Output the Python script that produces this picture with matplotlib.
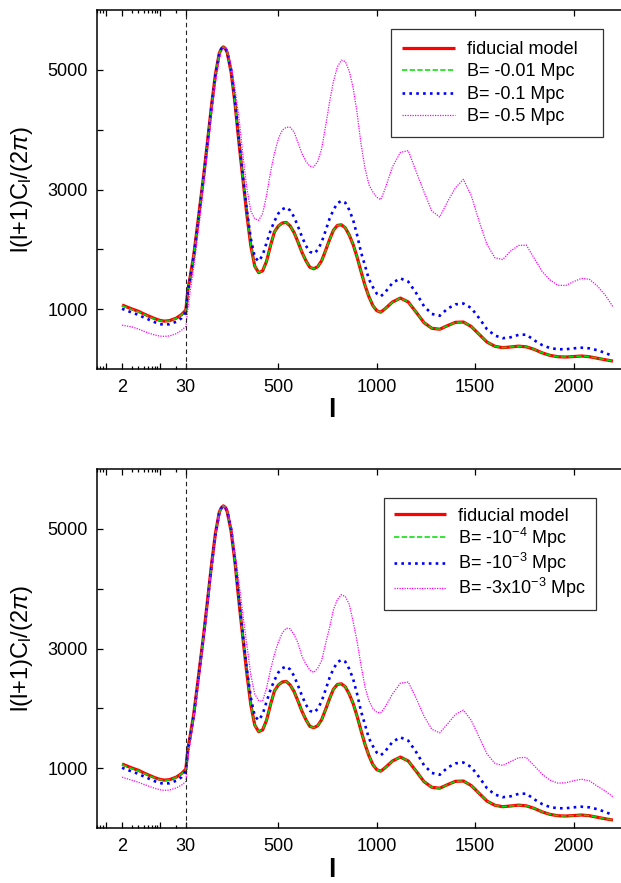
import matplotlib
matplotlib.use('Agg')
import matplotlib.pyplot as plt
import numpy as np
from matplotlib.ticker import FixedLocator, NullFormatter, FixedFormatter

plt.rcParams['font.family'] = ['Liberation Sans', 'DejaVu Sans']
plt.rcParams['mathtext.fontset'] = 'custom'
plt.rcParams['mathtext.rm'] = 'Liberation Sans'
plt.rcParams['mathtext.it'] = 'Liberation Sans:italic'

# multipoles (log part up to 30, linear after)
ell = [2, 3, 4, 5, 6, 8, 10, 12, 15, 20, 25, 30,
       40, 50, 60, 70, 80, 90, 100, 120, 140, 160, 180, 200, 210, 220, 230, 240,
       260, 280, 300, 320, 340, 360, 380, 400, 420, 440,
       460, 480, 500, 520, 540, 560, 580, 600, 620, 640,
       660, 680, 700, 720, 740, 760, 780, 800, 820, 840,
       860, 880, 900, 920, 940, 960, 980, 1000, 1020,
       1040, 1080, 1120, 1160, 1200, 1240, 1280, 1320, 1360, 1400,
       1440, 1480, 1520, 1560, 1600, 1640, 1680, 1720, 1760, 1800,
       1840, 1880, 1920, 1960, 2000, 2040, 2080, 2120, 2160, 2200]

fiducial = [1070, 1005, 965, 922, 890, 842, 812, 800, 808, 850, 910, 983,
            1320, 1500, 1700, 1900, 2160, 2420, 2690, 3217, 3800, 4390, 4920, 5280, 5350, 5384, 5360, 5290,
            4960, 4430, 3780, 3170, 2580, 2060, 1720, 1610, 1640, 1800,
            2060, 2290, 2390, 2440, 2450, 2390, 2280, 2120, 1950, 1810,
            1700, 1675, 1710, 1810, 1980, 2160, 2320, 2400, 2410, 2360,
            2240, 2080, 1870, 1630, 1400, 1210, 1060, 975, 950,
            1000, 1120, 1185, 1120, 950, 775, 680, 665, 725, 780,
            785, 710, 580, 450, 380, 356, 368, 382, 370, 328,
            270, 228, 205, 200, 208, 217, 205, 180, 155, 132]

b_tiny = [1058, 995, 957, 915, 883, 836, 806, 795, 803, 845, 905, 978,
          1310, 1490, 1690, 1890, 2150, 2410, 2680, 3210, 3790, 4380, 4910, 5275, 5348, 5383, 5362, 5295,
          4965, 4440, 3790, 3180, 2590, 2070, 1722, 1612, 1640, 1798,
          2055, 2287, 2390, 2440, 2450, 2392, 2283, 2124, 1953, 1812,
          1701, 1675, 1708, 1806, 1975, 2156, 2318, 2399, 2411, 2362,
          2243, 2084, 1874, 1634, 1403, 1212, 1062, 976, 950,
          998, 1118, 1184, 1122, 952, 777, 681, 664, 723, 779,
          786, 712, 582, 452, 381, 356, 367, 381, 371, 329,
          271, 229, 205, 200, 207, 216, 206, 181, 156, 133]

b_mid = [1007, 945, 905, 862, 832, 782, 750, 742, 748, 790, 850, 945,
         1300, 1480, 1680, 1880, 2140, 2400, 2670, 3200, 3780, 4370, 4900, 5270, 5345, 5382, 5365, 5300,
         5000, 4470, 3820, 3220, 2650, 2180, 1870, 1800, 1900, 2110,
         2310, 2470, 2600, 2670, 2700, 2650, 2540, 2380, 2210, 2060,
         1960, 1930, 1990, 2120, 2310, 2510, 2660, 2770, 2810, 2780,
         2660, 2490, 2240, 1950, 1730, 1500, 1370, 1260, 1215,
         1270, 1440, 1515, 1460, 1270, 1050, 920, 890, 1010, 1080,
         1095, 1020, 850, 665, 560, 515, 530, 570, 575, 480,
         400, 350, 330, 330, 345, 356, 345, 315, 270, 215]

b_big_top = [733, 705, 668, 632, 605, 568, 550, 545, 553, 590, 648, 712,
             1000, 1250, 1480, 1700, 1950, 2220, 2480, 3050, 3640, 4230, 4780, 5180, 5300, 5360, 5375, 5330,
             5080, 4680, 4190, 3570, 3020, 2640, 2510, 2485, 2600, 2900,
             3290, 3600, 3850, 3990, 4040, 4040, 3960, 3780, 3600, 3470,
             3390, 3375, 3470, 3680, 4060, 4460, 4810, 5050, 5160, 5140,
             4980, 4700, 4280, 3760, 3360, 3080, 2960, 2870, 2830,
             2990, 3380, 3620, 3650, 3300, 2960, 2640, 2540, 2800, 3030,
             3170, 2900, 2470, 2080, 1860, 1830, 1970, 2065, 2070, 1850,
             1630, 1490, 1400, 1395, 1460, 1515, 1500, 1390, 1240, 1040]

b_big_bot = [850, 800, 765, 730, 705, 663, 640, 628, 635, 670, 718, 776,
             1150, 1380, 1600, 1800, 2060, 2320, 2590, 3140, 3730, 4320, 4860, 5240, 5330, 5370, 5370, 5310,
             5030, 4600, 4100, 3560, 3060, 2560, 2240, 2130, 2120, 2340,
             2640, 2900, 3110, 3260, 3340, 3330, 3230, 3090, 2870, 2740,
             2640, 2600, 2670, 2800, 3080, 3350, 3650, 3820, 3900, 3870,
             3740, 3450, 3120, 2720, 2360, 2130, 2000, 1935, 1925,
             2010, 2240, 2420, 2440, 2170, 1870, 1650, 1590, 1740, 1900,
             1970, 1800, 1520, 1240, 1080, 1045, 1110, 1175, 1180, 1040,
             900, 800, 750, 755, 790, 815, 790, 700, 620, 520]

labels_top = ['fiducial model', 'B= -0.01 Mpc', 'B= -0.1 Mpc', 'B= -0.5 Mpc']
labels_bot = ['fiducial model', r'B= -10$^{\mathregular{-4}}$ Mpc',
              r'B= -10$^{\mathregular{-3}}$ Mpc', r'B= -3x10$^{\mathregular{-3}}$ Mpc']

# hybrid axis: log below l=30, linear above
K = 275.7
def fwd(l):
    l = np.asarray(l, float)
    safe = np.clip(l, 1e-6, None)
    return np.where(l < 30, 30 + K * np.log10(safe / 30), l)

def inv(x):
    x = np.asarray(x, float)
    return np.where(x < 30, 30 * 10 ** ((np.minimum(x, 30) - 30) / K), x)

fig = plt.figure(figsize=(6.21, 8.83), dpi=100)
W, H = 621, 883
AXW = 524.5

def make_panel(bottom_px, big, labels, leg_box, labelspacing, borderpad):
    ax = fig.add_axes([97.3 / W, 1 - bottom_px / H, AXW / W, 359 / H])
    ax.set_xscale('function', functions=(fwd, inv))
    ax.plot(ell, fiducial, color='#ff0000', lw=2.3, solid_capstyle='butt', label=labels[0])
    ax.plot(ell, b_tiny, color='#00dd00', lw=1.1, ls=(0, (3.5, 1.5)), label=labels[1])
    ax.plot(ell, b_mid, color='#0000ff', lw=1.9, ls=(0, (1, 1.6)), label=labels[2])
    ax.plot(ell, big, color='#ff00ff', lw=0.9, ls=(0, (1, 1)), label=labels[3])
    ax.axvline(30, color='#222222', lw=0.8, ls=(0, (4, 3)))
    ax.set_xlim(0.70, 2245)
    ax.set_ylim(0, 6000)

    ax.xaxis.set_major_locator(FixedLocator([1, 2, 10, 30, 500, 1000, 1500, 2000]))
    ax.xaxis.set_major_formatter(FixedFormatter(['', '2', '', '30', '500', '1000', '1500', '2000']))
    ax.xaxis.set_minor_locator(FixedLocator([0.7, 0.8, 0.9, 3, 4, 5, 6, 7, 8, 9, 20]))
    ax.xaxis.set_minor_formatter(NullFormatter())
    ax.yaxis.set_major_locator(FixedLocator([1000, 2000, 3000, 4000, 5000]))
    ax.yaxis.set_major_formatter(FixedFormatter(['1000', '', '3000', '', '5000']))
    ax.tick_params(which='both', direction='in', top=True, right=False, width=0.9, labelsize=13)
    ax.tick_params(which='major', length=4)
    ax.tick_params(which='minor', length=2)
    ax.tick_params(axis='y', pad=7)
    ax.tick_params(axis='x', pad=7)
    for s in ax.spines.values():
        s.set_linewidth(1.1)

    x0 = (leg_box[0] - 97.3) / AXW
    w = (leg_box[1] - leg_box[0]) / AXW
    top = (bottom_px - leg_box[2]) / 359
    leg = ax.legend(loc='upper left', bbox_to_anchor=(x0, top, w, 0), mode='expand',
                    fontsize=13, handlelength=2.9, handletextpad=0.65,
                    labelspacing=labelspacing, borderaxespad=0, borderpad=borderpad,
                    fancybox=False, framealpha=1)
    leg.get_frame().set_edgecolor('#333333')
    leg.get_frame().set_linewidth(0.9)

    fig.text(22 / W, 1 - (bottom_px - 179.5) / H, r'l(l+1)C$_{\mathregular{l}}$/(2$\pi$)',
             fontsize=17, rotation=90, ha='center', va='center')
    return ax

ax1 = make_panel(369, b_big_top, labels_top, (390.7, 603, 29.3), 0.3, 0.65)
ax2 = make_panel(828, b_big_bot, labels_bot, (384, 596, 497.7), 0.06, 0.55)

fig.text(332 / W, 1 - 410 / H, 'l', fontsize=19, fontweight='bold', ha='center', va='center')
fig.text(332 / W, 1 - 870 / H, 'l', fontsize=19, fontweight='bold', ha='center', va='center')

fig.savefig('out.png', dpi=100)
